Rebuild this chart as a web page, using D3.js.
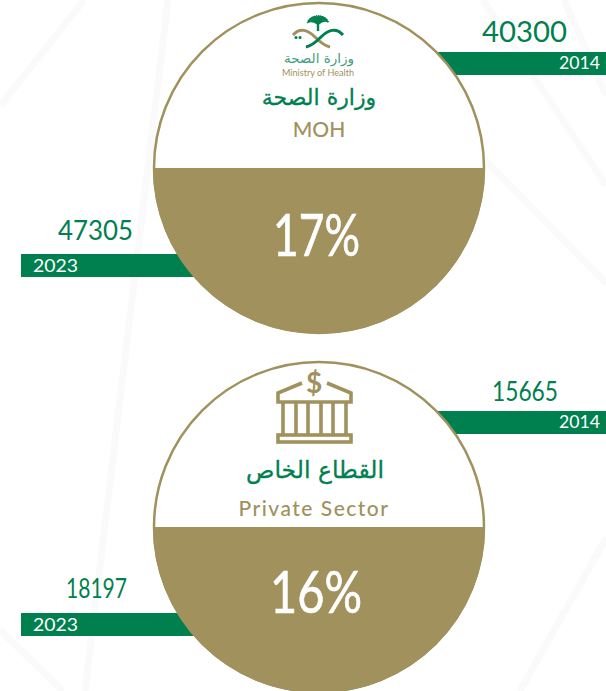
<!DOCTYPE html>
<html>
<head>
<meta charset="utf-8">
<script src="https://cdn.jsdelivr.net/npm/d3@7"></script>
<style>
  html, body { margin: 0; padding: 0; background: #fff; }
  svg { display: block; }
  text { font-family: Lato, "Open Sans", sans-serif; }
  .ar { font-family: "DejaVu Sans", sans-serif; }
</style>
</head>
<body>
<svg id="chart" width="606" height="691"></svg>
<script>
// values
const sectorsAr = ['وزارة الصحة', 'القطاع الخاص']
const sectorsEn = ['MOH', 'Private Sector']
const values2014 = [40300, 15665]
const values2023 = [47305, 18197]
const growth = [17, 16]
const fillShare = [0.5, 0.5] // the gold part is a plain half circle in both
const years = ['2014', '2023']

const green = '#00804f'
const gold = '#a0915d'
const faint = '#fafafa'

const svg = d3.select('#chart')

// faint decoration behind everything
const bgLines = [
  [[84, 0], [0, 106]],
  [[168, 0], [85, 691]],
  [[483, 0], [606, 185]],
  [[564, 0], [606, 95]],
  [[470, 145], [606, 283]],
  [[606, 538], [520, 691]],
  [[0, 630], [63, 691]],
]
svg.selectAll('.bg')
  .data(bgLines)
  .join('path')
  .attr('class', 'bg')
  .attr('d', d3.line())
  .attr('fill', 'none')
  .attr('stroke', faint)
  .attr('stroke-width', 7)

const radius = 165
const cx = 319
const cyScale = d3.scalePoint().domain(sectorsEn).range([168, 527])
const arc = d3.arc().innerRadius(0).outerRadius(radius + 1)

// per panel layout, the value labels are squeezed differently in the original
const layout = [
  { rightY: 52, leftY: 254, rightX: 482, rightW: 85, rightSize: 28, rightBase: 42, leftX: 58, leftW: 75, leftSize: 27, leftBase: 240, titleY: 105, enX: 319, enY: 137, enSpace: 0, pctX: 273, pctW: 87, pctY: 256, arSize: 22 },
  { rightY: 411, leftY: 613, rightX: 492, rightW: 66, rightSize: 26, rightBase: 401, leftX: 66, leftW: 61, leftSize: 26, leftBase: 598, titleY: 478, enX: 314, enY: 516, enSpace: 1.5, pctX: 270, pctW: 92, pctY: 613, arSize: 23.5 },
]

// text squeezed to the width it has in the reference
function fitted(g, str, x, y, w, size, fill) {
  return g.append('text').attr('x', x).attr('y', y)
    .attr('textLength', w).attr('lengthAdjust', 'spacingAndGlyphs')
    .attr('fill', fill).attr('font-size', size).text(str)
}

const panels = svg.selectAll('.panel')
  .data(sectorsEn.map((en, i) => ({ en, i })))
  .join('g')
  .attr('class', 'panel')

panels.each(function ({ en, i }) {
  const g = d3.select(this)
  const cy = cyScale(en)
  const l = layout[i]

  // bars go under the circle
  g.append('rect').attr('x', 400).attr('y', l.rightY).attr('width', 206).attr('height', 23).attr('fill', green)
  g.append('rect').attr('x', 21).attr('y', l.leftY).attr('width', 200).attr('height', 23).attr('fill', green)

  fitted(g, years[0], 559, l.rightY + 17, 41, 17, '#fff')
  fitted(g, years[1], 33, l.leftY + 18, 45, 18, '#fff')

  fitted(g, values2014[i], l.rightX, l.rightBase, l.rightW, l.rightSize, green)
  fitted(g, values2023[i], l.leftX, l.leftBase, l.leftW, l.leftSize, green)

  g.append('circle').attr('cx', cx).attr('cy', cy).attr('r', radius)
    .attr('fill', '#fff').attr('stroke', gold).attr('stroke-width', 2.5)

  const half = Math.PI * fillShare[i]
  g.append('path')
    .attr('transform', `translate(${cx},${cy})`)
    .attr('d', arc({ startAngle: Math.PI - half, endAngle: Math.PI + half }))
    .attr('fill', gold)

  fitted(g, `${growth[i]}%`, l.pctX, l.pctY, l.pctW, 58, '#fff')
    .attr('stroke', '#fff').attr('stroke-width', 0.7)

  g.append('text').attr('class', 'ar').attr('x', cx + (i ? -4 : 0)).attr('y', l.titleY).attr('text-anchor', 'middle')
    .attr('fill', green).attr('stroke', green).attr('stroke-width', 0.3)
    .attr('font-size', l.arSize).text(sectorsAr[i])
  g.append('text').attr('x', l.enX).attr('y', l.enY).attr('text-anchor', 'middle')
    .attr('fill', gold).attr('font-size', 21).attr('font-weight', 500)
    .attr('letter-spacing', l.enSpace).text(en)
})

// ministry logo
const logo = svg.append('g').attr('transform', 'translate(318,22)')
d3.range(-80, 81, 14).forEach((a) => {
  const t = (a - 90) * Math.PI / 180
  logo.append('path')
    .attr('d', `M0,2 Q${Math.cos(t) * 7},${Math.sin(t) * 8 - 1} ${Math.cos(t) * 11},${Math.sin(t) * 7 + 2}`)
    .attr('fill', 'none').attr('stroke', green).attr('stroke-width', 1.8)
})
logo.append('path').attr('d', 'M0,0 L0,9').attr('stroke', green).attr('stroke-width', 2.4)
logo.append('path').attr('d', 'M-25,13 C-18,5 -10,8 -3,15 C2,20 7,24 12,25')
  .attr('fill', 'none').attr('stroke', gold).attr('stroke-width', 3)
logo.append('path').attr('d', 'M25,13 C18,5 10,8 3,15 C-2,20 -7,24 -12,25')
  .attr('fill', 'none').attr('stroke', green).attr('stroke-width', 3)
logo.append('circle').attr('cx', -22).attr('cy', 15.5).attr('r', 1.5).attr('fill', green)
logo.append('circle').attr('cx', -18).attr('cy', 15.5).attr('r', 1.5).attr('fill', green)
svg.append('text').attr('class', 'ar').attr('x', 319).attr('y', 63).attr('text-anchor', 'middle')
  .attr('fill', '#3f9f7d').attr('font-size', 13.5).text('وزارة الصحة')
fitted(svg, 'Ministry of Health', 282, 76, 72, 9.5, gold)

// bank icon
const bank = svg.append('g').attr('transform', 'translate(230,360)')
  .attr('fill', 'none').attr('stroke', gold).attr('stroke-width', 3.6)
bank.append('path').attr('d', 'M72,23 L48,33 L48,42 L121,42 L121,33 L97,23')
bank.append('path').attr('d', 'M53,43 L53,74 M66,43 L66,74 M78,43 L78,74 M91,43 L91,74 M103,43 L103,74 M116,43 L116,74')
bank.append('rect').attr('x', 48).attr('y', 75).attr('width', 73).attr('height', 7)
svg.append('text').attr('x', 314).attr('y', 393).attr('text-anchor', 'middle')
  .attr('fill', gold).attr('font-size', 28).attr('font-weight', 700).text('$')
</script>
</body>
</html>
